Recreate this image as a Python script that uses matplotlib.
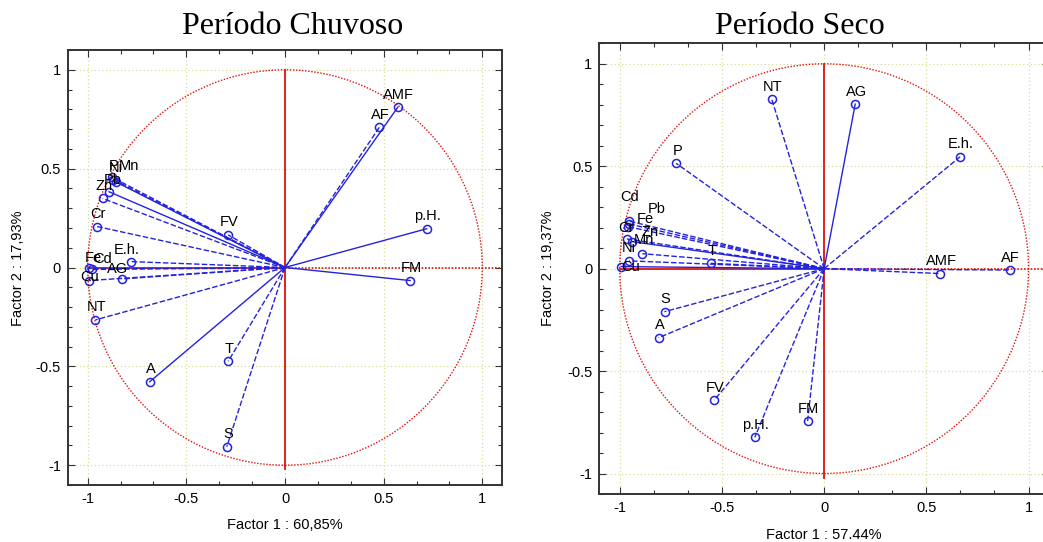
import matplotlib
matplotlib.use("Agg")
import matplotlib.pyplot as plt
from matplotlib.patches import Circle
from matplotlib.ticker import MultipleLocator

# Período Chuvoso: factor loadings
vars_ch = ["AMF", "AF", "p.H.", "FM", "FV", "T", "S", "A", "NT", "Cu",
           "Fe", "Cd", "AG", "E.h.", "Cr", "Zn", "Pb", "P", "Ni", "Mn"]
f1_ch = [0.572, 0.479, 0.718, 0.634, -0.288, -0.288, -0.295, -0.686, -0.961, -0.993,
         -0.993, -0.979, -0.828, -0.782, -0.952, -0.924, -0.892, -0.878, -0.858, -0.871]
f2_ch = [0.811, 0.710, 0.196, -0.066, 0.165, -0.474, -0.906, -0.578, -0.265, -0.066,
         0.000, -0.010, -0.058, 0.030, 0.207, 0.349, 0.383, 0.457, 0.433, 0.445]

# Período Seco: factor loadings
vars_se = ["NT", "AG", "P", "E.h.", "AMF", "AF", "T", "S", "A", "FV",
           "p.H.", "FM", "Cd", "Fe", "Pb", "Cr", "Zn", "Mn", "Ni", "Cu"]
f1_se = [-0.256, 0.152, -0.724, 0.665, 0.569, 0.908, -0.554, -0.781, -0.810, -0.538,
         -0.339, -0.081, -0.957, -0.960, -0.954, -0.965, -0.940, -0.889, -0.955, -0.993]
f2_se = [0.826, 0.803, 0.514, 0.546, -0.024, -0.007, 0.026, -0.210, -0.337, -0.642,
         -0.823, -0.746, 0.233, 0.205, 0.218, 0.145, 0.132, 0.073, 0.038, 0.010]

ticks = [-1, -0.5, 0, 0.5, 1]
tick_labels = ["-1", "-0.5", "0", "0.5", "1"]

# styles
solid_ch = {"AMF", "p.H.", "FM", "A", "Pb", "Ni"}
solid_se = {"AG", "Cu", "Zn"}
off_ch = {"P": (2, 11), "Ni": (0, 14), "Mn": (16, 14), "Pb": (4, 12), "Zn": (1, 12),
          "Fe": (4, 10), "Cd": (11, 10), "Cu": (1, 4), "AG": (-4, 10), "E.h.": (-4, 12)}
off_se = {"Cd": (1, 24), "Fe": (17, 8), "Pb": (28, 15), "Cr": (-1, 11), "Zn": (18, 10),
          "Mn": (2, 14), "Ni": (0, 13), "Cu": (9, 0)}

BLUE = "#2323dd"
RED = "#e01010"
GRID = "#dcdc96"
FONT = "Liberation Sans"

plt.rcParams.update({
    "font.family": FONT,
    "font.size": 10.5,
    "axes.unicode_minus": False,
})


def panel(ax, names, f1, f2, solid, offsets):
    ax.set_xlim(-1.1, 1.1)
    ax.set_ylim(-1.1, 1.1)
    ax.set_xticks(ticks)
    ax.set_xticklabels(tick_labels)
    ax.set_yticks(ticks)
    ax.set_yticklabels(tick_labels)
    ax.xaxis.set_minor_locator(MultipleLocator(1 / 6))
    ax.yaxis.set_minor_locator(MultipleLocator(0.1))
    ax.tick_params(which="both", direction="in", top=True, right=True,
                   color="#333333", width=0.8)
    ax.tick_params(which="major", length=5, pad=5, labelsize=10.5)
    ax.tick_params(which="minor", length=3)
    ax.grid(True, which="major", color=GRID, linestyle=(0, (1, 2)), linewidth=0.9)
    for s in ax.spines.values():
        s.set_linewidth(1.4)
        s.set_color("#333333")

    ax.add_patch(Circle((0, 0), 1, fill=False, edgecolor=RED,
                        linestyle=(0, (1, 1.2)), linewidth=1.0, zorder=2))
    ax.plot([0, 0], [-1.02, 1], color=RED, lw=1.3, zorder=2)
    ax.plot([-1, 0], [0, 0], color=RED, lw=1.3, zorder=2)
    ax.plot([0, 1.1], [0, 0], color=RED, lw=1.2, linestyle=(0, (1, 1)), zorder=2)

    for name, x, y in zip(names, f1, f2):
        ls = "-" if name in solid else (0, (4, 1.6))
        ax.plot([0, x], [0, y], color=BLUE, lw=1.0, linestyle=ls, zorder=3)
        ax.plot(x, y, "o", mfc="none", mec=BLUE, ms=5.8, mew=1.1, zorder=4)
        dx, dy = offsets.get(name, (1, 12.5))
        ax.annotate(name, (x, y), xytext=(dx, dy), textcoords="offset pixels",
                    ha="center", va="center", fontsize=10.5, color="black", zorder=5)


fig = plt.figure(figsize=(10.43, 5.42), dpi=100)
W, H = 1043, 542
ax1 = fig.add_axes([68 / W, (H - 485) / H, 434 / W, 435 / H])
ax2 = fig.add_axes([599.3 / W, (H - 494) / H, 449.7 / W, 450.7 / H])

panel(ax1, vars_ch, f1_ch, f2_ch, solid_ch, off_ch)
panel(ax2, vars_se, f1_se, f2_se, solid_se, off_se)

fig.text(293 / W, 1 - 27 / H, "Período Chuvoso", family="Liberation Serif",
         fontsize=23, ha="center", va="center")
fig.text(800 / W, 1 - 27 / H, "Período Seco", family="Liberation Serif",
         fontsize=23, ha="center", va="center")
fig.text(285 / W, 1 - 525 / H, "Factor 1 : 60,85%", ha="center", va="center")
fig.text(18 / W, 1 - 268 / H, "Factor 2 : 17,93%", ha="center", va="center", rotation=90)
fig.text(824 / W, 1 - 535 / H, "Factor 1 : 57.44%", ha="center", va="center")
fig.text(548 / W, 1 - 268 / H, "Factor 2 : 19,37%", ha="center", va="center", rotation=90)

fig.savefig("out.png", dpi=100, facecolor="white")
